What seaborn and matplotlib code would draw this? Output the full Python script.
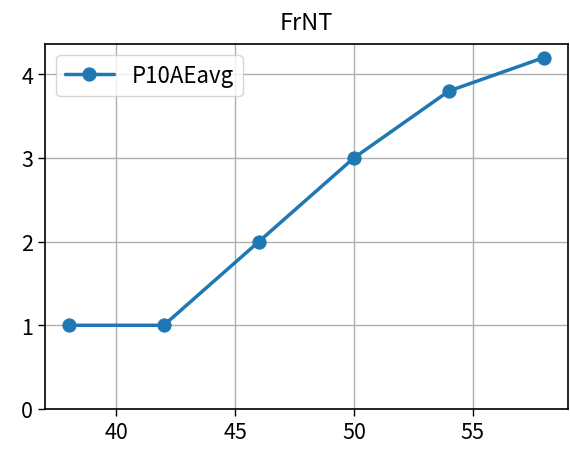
import matplotlib
matplotlib.use("Agg")
import matplotlib.pyplot as plt
import seaborn as sns
import pandas as pd

x_vals = [38, 42, 46, 50, 54, 58]
y_vals = [1, 1, 2, 3, 3.8, 4.2]
series_name = "P10AEavg"
title = "FrNT"

sns.set_style("ticks")
plt.rcParams['font.family'] = ['Noto Sans CJK SC', 'DejaVu Sans']
plt.rcParams['axes.unicode_minus'] = False
for k in ['text.color', 'axes.labelcolor', 'xtick.color', 'ytick.color', 'axes.edgecolor']:
    plt.rcParams[k] = 'black'

df = pd.DataFrame({"x": x_vals, "y": y_vals})

fig = plt.figure(figsize=(5.7, 4.56), dpi=100)
ax = fig.add_axes([0.079, 0.101, 0.917, 0.80])
sns.lineplot(data=df, x="x", y="y", marker="o", markersize=9.5, linewidth=2.5,
             color="#1f77b4", markeredgecolor="#1f77b4", label=series_name, ax=ax)
ax.set_xlim(37, 59)
ax.set_ylim(0, 4.36)
ax.set_xticks([40, 45, 50, 55])
ax.set_yticks([0, 1, 2, 3, 4])
ax.grid(True, color="#b0b0b0", linewidth=1)
ax.set_axisbelow(True)
ax.set_xlabel("")
ax.set_ylabel("")
ax.set_title(title, fontsize=17, pad=11)
ax.tick_params(labelsize=15.5, length=5, width=1, color="black", labelcolor="black")
for s in ax.spines.values():
    s.set_color("black")
    s.set_linewidth(1.2)
leg = ax.legend(loc="upper left", fontsize=16, frameon=True, fancybox=True,
                handlelength=2.2)
leg.get_frame().set_edgecolor("#cccccc")
fig.savefig("out.png", dpi=100)
